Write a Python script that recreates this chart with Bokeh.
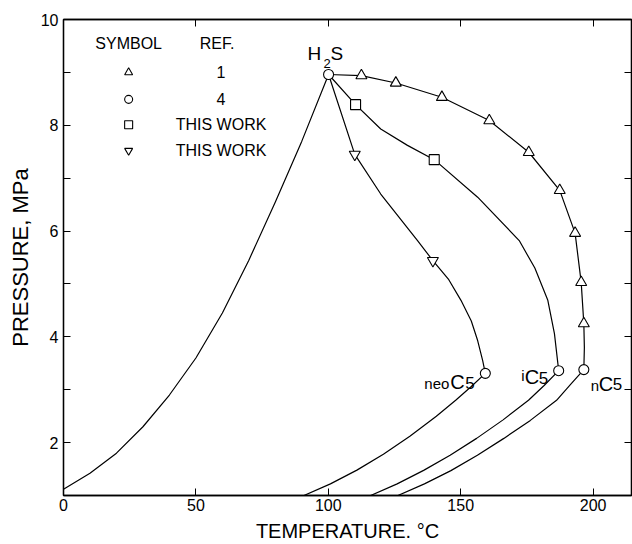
from bokeh.plotting import figure
from bokeh.models import FixedTicker, LinearAxis, CustomJSTickFormatter, Range1d
from bokeh.core.properties import value
from bokeh.embed import file_html
from bokeh.resources import INLINE

FONT = value("Liberation Sans")

# ---------------- data ----------------
# H2S vapour-pressure curve
h2s_vp_T = [0, 10, 20, 30, 40, 50, 60, 70, 80, 90, 100.1]
h2s_vp_P = [1.12, 1.42, 1.8, 2.3, 2.9, 3.6, 4.45, 5.45, 6.55, 7.7, 8.96]

# critical loci
nc5_loc_T = [100.1, 112.5, 125.5, 142.9, 160.8, 175.7, 187.4, 193.2, 195.5, 196.5, 196.7, 196.5]
nc5_loc_P = [8.96, 8.94, 8.80, 8.53, 8.09, 7.49, 6.77, 5.96, 5.03, 4.25, 3.8, 3.38]
ic5_loc_T = [100.1, 110.3, 119.8, 129.9, 140.0, 156.4, 172.1, 178.0, 182.9, 185.4, 187.0]
ic5_loc_P = [8.96, 8.39, 7.93, 7.62, 7.35, 6.64, 5.82, 5.3, 4.69, 4.06, 3.36]
neo_loc_T = [100.1, 110.0, 119.8, 133.7, 139.5, 145.5, 150.1, 154.0, 156.4, 158.3, 159.3]
neo_loc_P = [8.96, 7.45, 6.7, 5.82, 5.44, 5.08, 4.69, 4.3, 3.93, 3.55, 3.31]

# pentane vapour-pressure curves
neo_vp_T = [90.8, 100.8, 110.8, 120.8, 130.8, 140.8, 148.1, 154.0, 159.3]
neo_vp_P = [1.0, 1.22, 1.48, 1.78, 2.12, 2.50, 2.80, 3.06, 3.31]
ic5_vp_T = [116.0, 126.0, 136.0, 146.0, 156.0, 166.0, 175.6, 181.5, 187.0]
ic5_vp_P = [1.0, 1.22, 1.475, 1.76, 2.08, 2.43, 2.8, 3.08, 3.36]
nc5_vp_T = [126.3, 136.3, 146.3, 156.3, 166.3, 176.3, 186.2, 191.5, 196.5]
nc5_vp_P = [1.0, 1.22, 1.47, 1.76, 2.08, 2.42, 2.8, 3.1, 3.38]

# symbols
ref1_T = [112.5, 125.5, 142.9, 160.8, 175.7, 187.4, 193.2, 195.5, 196.5]
ref1_P = [8.94, 8.80, 8.53, 8.09, 7.49, 6.77, 5.96, 5.03, 4.25]
ref4_T = [100.1, 159.3, 187.0, 196.5]          # H2S, neoC5, iC5, nC5
ref4_P = [8.96, 3.31, 3.36, 3.38]
sq_T = [110.3, 140.0]
sq_P = [8.39, 7.35]
inv_T = [110.0, 139.5]
inv_P = [7.45, 5.44]

x_ticks = [0, 50, 100, 150, 200]
y_ticks = [2, 4, 6, 8, 10]
y_minor = [3, 5, 7, 9]

legend_symbols = ["triangle", "circle", "square", "inverted_triangle"]
legend_refs = ["1", "4", "THIS WORK", "THIS WORK"]

# ---------------- figure ----------------
p = figure(width=632, height=544, output_backend="svg", toolbar_location=None,
           x_range=Range1d(0, 214.5), y_range=Range1d(1, 10),
           min_border_left=63, min_border_right=1, min_border_top=19, min_border_bottom=49)
p.background_fill_color = "white"
p.border_fill_color = "white"
p.grid.visible = False
p.outline_line_color = "black"
p.outline_line_width = 1.3

def style_axis(ax, labels=True):
    ax.axis_line_color = "black"
    ax.axis_line_width = 1.3
    ax.major_tick_in = 7
    ax.major_tick_out = 0
    ax.minor_tick_in = 7
    ax.minor_tick_out = 0
    ax.major_tick_line_color = "black"
    ax.minor_tick_line_color = "black"
    ax.major_label_text_font = "Liberation Sans"
    ax.major_label_text_font_size = "16px"
    ax.major_label_text_color = "black"
    ax.axis_label_text_font = "Liberation Sans"
    ax.axis_label_text_font_style = "normal"
    ax.axis_label_text_color = "black"
    if not labels:
        ax.formatter = CustomJSTickFormatter(code="return ''")
        ax.major_label_standoff = 0

p.xaxis.ticker = FixedTicker(ticks=x_ticks)
p.yaxis.ticker = FixedTicker(ticks=y_ticks, minor_ticks=y_minor)
style_axis(p.xaxis[0])
style_axis(p.yaxis[0])
p.xaxis.axis_label = "TEMPERATURE. °C"
p.yaxis.axis_label = "PRESSURE, MPa"
p.xaxis.axis_label_text_font_size = "20px"
p.yaxis.axis_label_text_font_size = "22px"
p.xaxis.major_label_standoff = 3
p.xaxis.axis_label_standoff = 6
p.yaxis.major_label_standoff = 5
p.yaxis.axis_label_standoff = 5

top = LinearAxis(ticker=FixedTicker(ticks=x_ticks))
style_axis(top, labels=False)
p.add_layout(top, "above")
right = LinearAxis(ticker=FixedTicker(ticks=y_ticks, minor_ticks=y_minor))
style_axis(right, labels=False)
p.add_layout(right, "right")

# ---------------- curves ----------------
lw = 1.2
for xs, ys in [(h2s_vp_T, h2s_vp_P), (nc5_loc_T, nc5_loc_P), (ic5_loc_T, ic5_loc_P),
               (neo_loc_T, neo_loc_P), (neo_vp_T, neo_vp_P), (ic5_vp_T, ic5_vp_P),
               (nc5_vp_T, nc5_vp_P)]:
    p.line(xs, ys, line_color="black", line_width=lw, line_join="round")

# ---------------- symbols ----------------
mk = dict(fill_color="white", line_color="black", line_width=1.1)
p.scatter(ref1_T, ref1_P, marker="triangle", size=11, **mk)
p.scatter(sq_T, sq_P, marker="square", size=10, **mk)
p.scatter(inv_T, inv_P, marker="inverted_triangle", size=11, **mk)
p.scatter(ref4_T, ref4_P, marker="circle", size=10, **mk)

# ---------------- legend (symbol table) ----------------
leg_sym_x = 24.6
leg_ref_x = 59.5
leg_rows_P = [9.0, 8.49, 8.01, 7.52]
p.text([leg_sym_x], [9.55], text=["SYMBOL"], text_font=FONT, text_font_size="16px",
       text_align="center", text_baseline="middle", text_color="black")
p.text([leg_ref_x - 1.5], [9.55], text=["REF."], text_font=FONT, text_font_size="16px",
       text_align="center", text_baseline="middle", text_color="black")
for sym, ref, yy in zip(legend_symbols, legend_refs, leg_rows_P):
    p.scatter([leg_sym_x], [yy], marker=sym, size=8, **mk)
    p.text([leg_ref_x], [yy], text=[ref], text_font=FONT, text_font_size="16px",
           text_align="center", text_baseline="middle", text_color="black")

# ---------------- curve labels ----------------
def part(x, y, s, size, dx, dy, align="left"):
    p.text([x], [y], text=[s], text_font=FONT, text_font_size=size,
           x_offset=dx, y_offset=dy, text_align=align, text_baseline="alphabetic",
           text_color="black")

hx, hy = ref4_T[0], ref4_P[0]
part(hx, hy, "H", "19px", -21, -21)
part(hx, hy, "2", "13px", -5, -11)
part(hx, hy, "S", "19px", 2, -21)

nx, ny = ref4_T[1], ref4_P[1]
part(nx, ny, "neo", "15px", -36, 10, "right")
part(nx, ny, "C", "20px", -35, 9)
part(nx, ny, "5", "17px", -20, 10)

ix, iy = ref4_T[2], ref4_P[2]
part(ix, iy, "i", "15px", -34, 5, "right")
part(ix, iy, "C", "20px", -34, 6)
part(ix, iy, "5", "17px", -20, 7)

kx, ky = ref4_T[3], ref4_P[3]
part(kx, ky, "n", "15px", 7, 16)
part(kx, ky, "C", "20px", 15, 14)
part(kx, ky, "5", "17px", 29, 14)

open("out.html", "w").write(file_html(p, INLINE))
